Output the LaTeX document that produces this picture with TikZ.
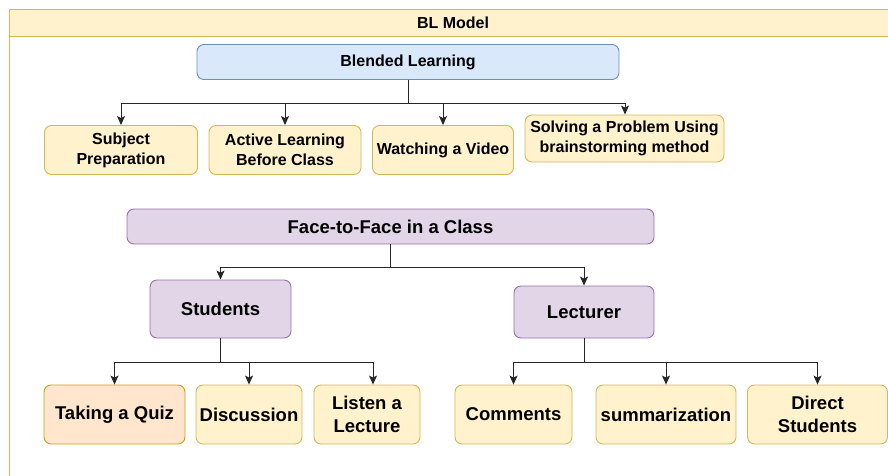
\documentclass[tikz,border=0pt]{standalone}
\usepackage{fontspec}
\setmainfont{Liberation Sans}
\usetikzlibrary{arrows.meta}
\definecolor{ylwfill}{HTML}{FFF2CC}
\definecolor{ylwline}{HTML}{D6B656}
\definecolor{bluefill}{HTML}{DAE8FC}
\definecolor{blueline}{HTML}{6C8EBF}
\definecolor{purpfill}{HTML}{E1D5E7}
\definecolor{purpline}{HTML}{9673A6}
\definecolor{orgfill}{HTML}{FFE6CC}
\definecolor{orgline}{HTML}{D79B00}
\begin{document}
\begin{tikzpicture}[x=1pt,y=-1pt,>={Stealth[length=9pt,width=8pt,inset=2pt]}]
			\tikzstyle{box} = [draw=ylwline, fill=ylwfill, line width=0.9pt, rounded corners=7pt, align=center, inner sep=2pt, font=\bfseries\fontsize{16}{20}\selectfont]
			\tikzstyle{bigbox} = [box, font=\bfseries\fontsize{18.5}{23}\selectfont]
			\tikzstyle{purp} = [bigbox, draw=purpline, fill=purpfill]
			\tikzstyle{link} = [->, line width=1pt, black!85]
			\useasboundingbox (0,0) rectangle (888,475);
			\clip (0,0) rectangle (888,475);

			\draw[ylwline, line width=1pt] (9,9) rectangle (897,700);
			\node[draw=ylwline, fill=ylwfill, line width=1pt, minimum width=888pt, minimum height=27pt, font=\bfseries\fontsize{16}{20}\selectfont] (model) at (453,22.5) {BL Model};

			\node[box, draw=blueline, fill=bluefill, minimum width=422pt, minimum height=35pt] (bl) at (408,62) {Blended Learning};
			\node[box, minimum width=153pt, minimum height=49pt] (sp) at (121,150) {Subject\\Preparation};
			\node[box, minimum width=152pt, minimum height=49pt] (al) at (285,150) {Active Learning\\Before Class};
			\node[box, minimum width=141pt, minimum height=49pt] (wv) at (443,150) {Watching a Video};
			\node[box, minimum width=199pt, minimum height=47pt] (sv) at (624.5,138.5) {Solving a Problem Using\\brainstorming method};

			\node[purp, minimum width=527pt, minimum height=35pt] (f2f) at (390.5,226.5) {Face-to-Face in a Class};
			\node[purp, minimum width=141pt, minimum height=58pt] (stu) at (220.5,309) {Students};
			\node[purp, minimum width=140pt, minimum height=52pt] (lec) at (584,312) {Lecturer};

			\node[bigbox, draw=orgline, fill=orgfill, minimum width=141pt, minimum height=59pt] (quiz) at (114.5,414.5) {Taking a Quiz};
			\node[bigbox, minimum width=106pt, minimum height=59pt] (disc) at (249,414.5) {Discussion};
			\node[bigbox, minimum width=106pt, minimum height=59pt] (lis) at (367,414.5) {Listen a\\Lecture};
			\node[bigbox, minimum width=117pt, minimum height=59pt] (com) at (513.5,414.5) {Comments};
			\node[bigbox, minimum width=140pt, minimum height=59pt] (sum) at (666,414.5) {summarization};
			\node[bigbox, minimum width=140pt, minimum height=59pt] (dir) at (817.5,414.5) {Direct\\Students};

			\draw[link] (bl.south) -- ++(0,23.5) -| (sp.north);
			\draw[link] (bl.south) -- ++(0,23.5) -| (al.north);
			\draw[link] (bl.south) -- ++(0,23.5) -| (wv.north);
			\draw[link] (bl.south) -- ++(0,23.5) -| ([xshift=0.5pt]sv.north);

			\draw[link] (f2f.south) -- ++(0,23.5) -| (stu.north);
			\draw[link] (f2f.south) -- ++(0,23.5) -| (lec.north);

			\draw[link] (stu.south) -- ++(0,24) -| (quiz.north);
			\draw[link] (stu.south) -- ++(0,24) -| (disc.north);
			\draw[link] (stu.south) -- ++(0,24) -| ([xshift=6pt]lis.north);

			\draw[link] (lec.south) -- ++(0,24) -| (com.north);
			\draw[link] (lec.south) -- ++(0,24) -| (sum.north);
			\draw[link] (lec.south) -- ++(0,24) -| (dir.north);
	\end{tikzpicture}
\end{document}
